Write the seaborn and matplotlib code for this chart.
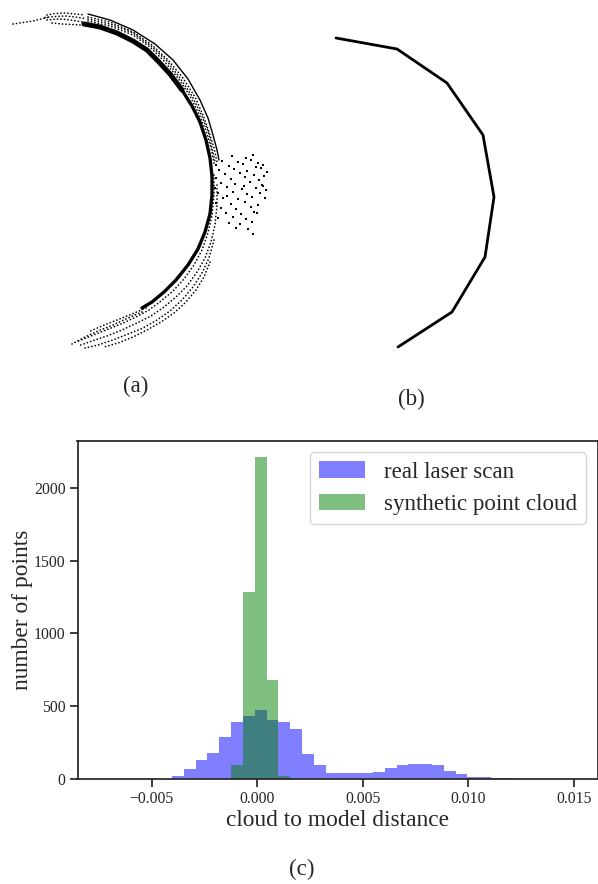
import numpy as np
import pandas as pd
import matplotlib
matplotlib.use("Agg")
import matplotlib.pyplot as plt
import seaborn as sns

# ====== data: (a) raw laser scan (image px) ======
arc_x = [84, 100, 117, 133, 147, 158, 170, 182, 192, 200, 206, 210, 212, 212, 210, 205, 198, 188, 176, 164, 152, 142]
arc_y = [24, 27, 33, 41, 50, 61, 74, 90, 106, 122, 140, 158, 176, 195, 214, 232, 249, 265, 280, 292, 302, 308]
arc_top_x = [84, 100, 117, 133, 147, 158, 170, 182]
arc_top_y = [24, 27, 33, 41, 50, 61, 74, 90]

outer_x = [88, 110, 133, 155, 173, 188, 200, 208, 213, 217, 219]
outer_y = [14, 20, 30, 44, 60, 79, 100, 118, 135, 150, 160]

# dotted rows of scan points
rows = {
    "mid1": ([88, 110, 133, 150, 164, 178, 190, 199, 206, 211, 214],
             [21, 26, 35, 47, 61, 78, 96, 114, 131, 148, 163]),
    "mid2": ([88, 110, 133, 151, 166, 180, 192, 201, 208, 212, 215],
             [19, 24, 33, 46, 60, 78, 96, 114, 131, 148, 162]),
    "mid3": ([88, 110, 133, 152, 168, 183, 195, 203, 209, 214, 217],
             [17, 22, 32, 45, 60, 78, 97, 115, 132, 148, 162]),
    "low1": ([214, 214, 212, 208, 202, 194, 184, 173, 161, 149, 136, 121, 106, 91, 76],
             [175, 195, 215, 233, 250, 265, 279, 291, 301, 310, 317, 324, 330, 336, 342]),
    "low2": ([217, 217, 215, 211, 205, 197, 187, 176, 164, 151, 137, 122, 107, 92, 78],
             [185, 205, 225, 242, 258, 272, 286, 297, 307, 316, 323, 330, 336, 341, 346]),
    "low3": ([214, 209, 202, 193, 182, 170, 157, 143, 128, 113, 98, 85],
             [240, 258, 273, 287, 300, 311, 320, 328, 334, 340, 345, 348]),
    "low4": ([210, 204, 196, 186, 174, 161, 147, 133, 118, 104],
             [262, 277, 290, 302, 313, 322, 330, 337, 343, 347]),
    "tail1": ([142, 128, 113, 98, 85, 72],
              [312, 318, 325, 331, 337, 344]),
    "tail2": ([146, 132, 117, 102, 88],
              [308, 314, 320, 326, 332]),
    "topA": ([13, 23, 33, 43, 50], [24, 22.5, 21, 18.5, 17]),
    "topB": ([47, 55, 65, 75, 85], [15, 13.5, 13, 14, 15]),
    "topC": ([47, 57, 67, 77, 85], [20, 19, 19.5, 21, 22.5]),
    "topD": ([52, 62, 72, 80], [23, 24, 24.5, 25]),
    "topE": ([45, 55, 65, 75, 85], [17.5, 16.5, 16, 17, 18.5]),
}

blob_x = [232, 246, 253, 222, 238, 251, 258, 216, 229, 243, 256, 263, 219, 234, 247, 261, 267,
          225, 240, 254, 264, 216, 231, 245, 259, 221, 235, 250, 262, 215, 227, 242, 256,
          218, 233, 247, 260, 266, 223, 238, 252, 265, 216, 231, 245, 258, 221, 236, 251,
          226, 241, 254, 218, 233, 246, 229, 240, 252, 236, 248, 253, 257, 263, 227, 244]
blob_y = [156, 158, 155, 161, 162, 160, 163, 165, 166, 164, 167, 165, 170, 169, 171, 168, 172,
          174, 173, 175, 176, 178, 179, 177, 180, 183, 184, 182, 185, 188, 187, 189, 188,
          193, 192, 194, 193, 190, 198, 199, 197, 198, 203, 204, 202, 205, 208, 209, 207,
          213, 214, 212, 218, 217, 219, 223, 224, 222, 228, 229, 234, 213, 186, 196, 186]

# ====== data: (b) fitted model, polyline ======
model_x = [336, 397, 447, 483, 494, 485, 452, 398]
model_y = [38, 49, 83, 135, 197, 257, 312, 347]

# ====== data: (c) histogram counts, 40 bins on [-0.0074, 0.0150] ======
bin_lo, bin_hi, n_bins = -0.0074, 0.0150, 40
real_counts = [1, 3, 1, 3, 3, 3, 18, 68, 130, 180,
               288, 390, 432, 473, 404, 390, 342, 173, 98, 41,
               41, 41, 41, 50, 75, 95, 105, 104, 98, 57,
               34, 16, 14, 4, 4, 3, 3, 3, 3, 2]
synth_counts = [0, 0, 0, 0, 0, 0, 0, 0, 0, 1,
                3, 98, 1281, 2212, 678, 20, 0, 0, 0, 0,
                0, 0, 0, 0, 0, 0, 0, 0, 0, 0,
                0, 0, 0, 0, 0, 0, 0, 0, 0, 0]

# ====== style ======
sns.set_theme(style="ticks")
plt.rcParams["font.family"] = ["Liberation Serif", "DejaVu Serif"]

W, H = 598, 884
fig = plt.figure(figsize=(W / 100, H / 100), dpi=100)

# ---- top panels (a) and (b), drawn in image-pixel units ----
top_h = 370
ax_top = fig.add_axes([0, 1 - top_h / H, 1, top_h / H])
ax_top.set_xlim(0, W)
ax_top.set_ylim(top_h, 0)
ax_top.axis("off")

sns.lineplot(x=arc_x, y=arc_y, ax=ax_top, sort=False, estimator=None,
             color="black", linewidth=2.4)
sns.lineplot(x=arc_top_x, y=arc_top_y, ax=ax_top, sort=False, estimator=None,
             color="black", linewidth=3.6)
sns.lineplot(x=outer_x, y=outer_y, ax=ax_top, sort=False, estimator=None,
             color="black", linewidth=1.0)
for name, (rx, ry) in rows.items():
    sns.lineplot(x=rx, y=ry, ax=ax_top, sort=False, estimator=None, color="black",
                 linewidth=1.2, linestyle=(0, (0.1, 2.0)), dash_capstyle="round")
sns.scatterplot(x=blob_x, y=blob_y, ax=ax_top, color="black", s=3,
                marker="s", linewidth=0)

sns.lineplot(x=model_x, y=model_y, ax=ax_top, sort=False, estimator=None,
             color="black", linewidth=2.0)

fig.text(136 / W, 1 - 386 / H, "(a)", ha="center", va="center", fontsize=16.6)
fig.text(411 / W, 1 - 399 / H, "(b)", ha="center", va="center", fontsize=16.6)
fig.text(302 / W, 1 - 869 / H, "(c)", ha="center", va="center", fontsize=16.6)

# ---- (c) histogram ----
ax = fig.add_axes([77.5 / W, 1 - 779 / H, 520 / W, (779 - 440.7) / H])

bin_w = (bin_hi - bin_lo) / n_bins
centers = bin_lo + bin_w * (np.arange(n_bins) + 0.5)
hist_df = pd.DataFrame({"center": centers, "real": real_counts, "synth": synth_counts})

sns.histplot(data=hist_df, x="center", weights="real", bins=n_bins,
             binrange=(bin_lo, bin_hi), color="blue", alpha=0.5, linewidth=0,
             label="real laser scan", ax=ax)
sns.histplot(data=hist_df, x="center", weights="synth", bins=n_bins,
             binrange=(bin_lo, bin_hi), color="green", alpha=0.5, linewidth=0,
             label="synthetic point cloud", ax=ax)

ax.set_xticks([-0.005, 0.0, 0.005, 0.010, 0.015])
ax.set_yticks([0, 500, 1000, 1500, 2000])
ax.tick_params(labelsize=11.3, pad=2.5)
ax.set_xlabel("cloud to model distance", fontsize=16.8, labelpad=2)
ax.set_ylabel("number of points", fontsize=16.8, labelpad=1)
ax.legend(loc="upper right", fontsize=16.6)

fig.savefig("out.png", dpi=100)
